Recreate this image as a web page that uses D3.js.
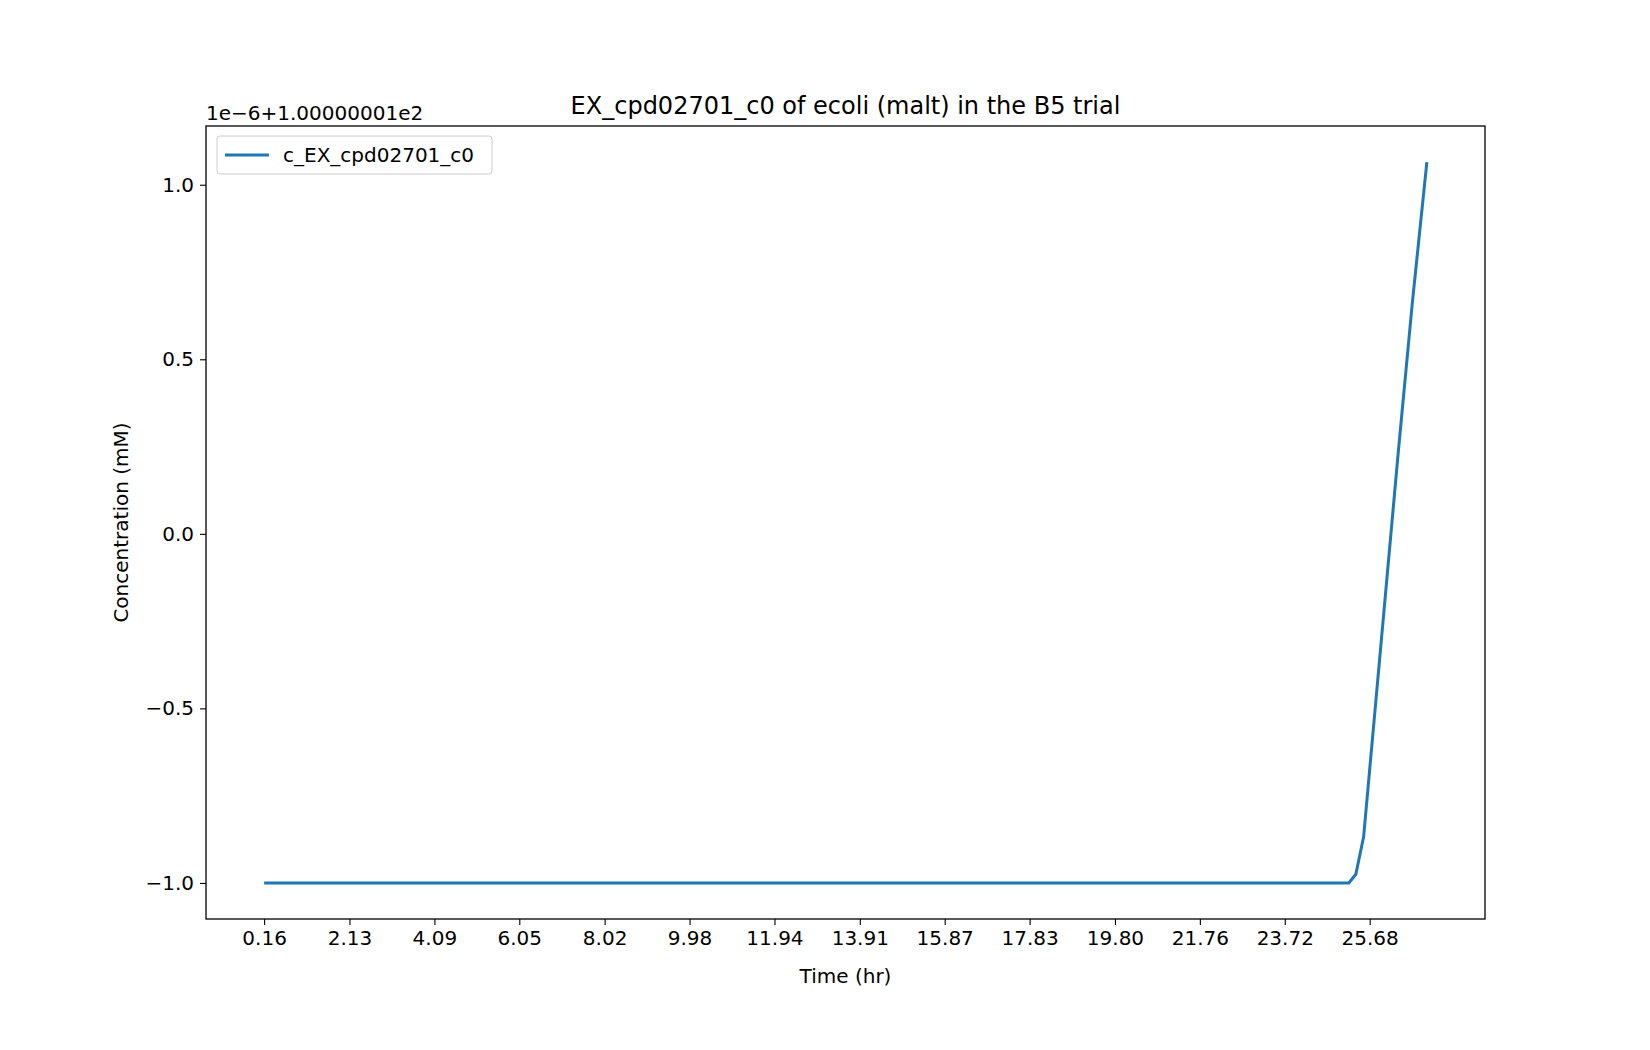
<!DOCTYPE html>
<html>
<head>
<meta charset="utf-8">
<script src="https://cdn.jsdelivr.net/npm/d3@7"></script>
<style>
  body { margin: 0; background: #fff; }
  text { font-family: "DejaVu Sans", sans-serif; }
</style>
</head>
<body>
<svg id="chart" width="1650" height="1050"></svg>
<script>
// data (y is offset from 1.00000001e2, in units of 1e-6)
const times = [0.16, 2.13, 4.09, 6.05, 8.02, 9.98, 11.94, 13.91, 15.87, 17.83, 19.80, 21.76, 23.72, 25.20, 25.36, 25.54, 26.34, 26.66, 27.00];
const values = [-1, -1, -1, -1, -1, -1, -1, -1, -1, -1, -1, -1, -1, -1, -0.975, -0.868, 0.234, 0.656, 1.065];
const xTickLabels = ["0.16", "2.13", "4.09", "6.05", "8.02", "9.98", "11.94", "13.91", "15.87", "17.83", "19.80", "21.76", "23.72", "25.68"];
const yTicks = [-1.0, -0.5, 0.0, 0.5, 1.0];

const width = 1650;
const height = 1050;
const margin = { left: 206, right: 165, top: 126, bottom: 131 };
const blue = "#1f77b4";
const fs = 20;

const svg = d3.select("#chart");

// scales with matplotlib-style 5% padding
const xPad = (d3.max(times) - d3.min(times)) * 0.05;
const yPad = (d3.max(values) - d3.min(values)) * 0.05;
const xScale = d3.scaleLinear()
  .domain([d3.min(times) - xPad, d3.max(times) + xPad])
  .range([margin.left, width - margin.right]);
const yScale = d3.scaleLinear()
  .domain([d3.min(values) - yPad, d3.max(values) + yPad])
  .range([height - margin.bottom, margin.top]);

// axes
const xAxis = d3.axisBottom(xScale)
  .tickValues(xTickLabels.map(Number))
  .tickFormat((d, i) => xTickLabels[i])
  .tickSizeOuter(0).tickSize(6).tickPadding(6);
const yAxis = d3.axisLeft(yScale)
  .tickValues(yTicks)
  .tickFormat((d) => d3.format(".1f")(d).replace("-", "\u2212"))
  .tickSizeOuter(0).tickSize(6).tickPadding(6);

const gx = svg.append("g")
  .attr("transform", `translate(0,${height - margin.bottom})`)
  .call(xAxis);
const gy = svg.append("g")
  .attr("transform", `translate(${margin.left},0)`)
  .call(yAxis);
[gx, gy].forEach((g) => {
  g.select(".domain").remove();
  g.selectAll("text").attr("font-size", fs).attr("fill", "#000").style("font-family", "DejaVu Sans");
  g.selectAll("line").attr("stroke", "#000").attr("stroke-width", 1.1);
});

// line
const line = d3.line()
  .x((d, i) => xScale(times[i]))
  .y((d) => yScale(d));
svg.append("path")
  .datum(values)
  .attr("d", line)
  .attr("fill", "none")
  .attr("stroke", blue)
  .attr("stroke-width", 3);

// frame
svg.append("rect")
  .attr("x", margin.left).attr("y", margin.top)
  .attr("width", width - margin.left - margin.right)
  .attr("height", height - margin.top - margin.bottom)
  .attr("fill", "none").attr("stroke", "#000").attr("stroke-width", 1.3);

// texts
svg.append("text")
  .attr("x", (margin.left + width - margin.right) / 2).attr("y", 114)
  .attr("text-anchor", "middle").attr("font-size", 24)
  .text("EX_cpd02701_c0 of ecoli (malt) in the B5 trial");
svg.append("text")
  .attr("x", margin.left).attr("y", 120)
  .attr("font-size", fs)
  .text("1e\u22126+1.00000001e2");
svg.append("text")
  .attr("x", (margin.left + width - margin.right) / 2).attr("y", 983)
  .attr("text-anchor", "middle").attr("font-size", fs)
  .text("Time (hr)");
svg.append("text")
  .attr("transform", `translate(128,${(margin.top + height - margin.bottom) / 2}) rotate(-90)`)
  .attr("text-anchor", "middle").attr("font-size", fs)
  .text("Concentration (mM)");

// legend
const lg = svg.append("g").attr("transform", `translate(${margin.left + 11},${margin.top + 10})`);
lg.append("rect")
  .attr("width", 275).attr("height", 38).attr("rx", 3)
  .attr("fill", "#fff").attr("stroke", "#ccc");
lg.append("line")
  .attr("x1", 8).attr("x2", 52).attr("y1", 19).attr("y2", 19)
  .attr("stroke", blue).attr("stroke-width", 3);
lg.append("text")
  .attr("x", 66).attr("y", 26).attr("font-size", fs)
  .text("c_EX_cpd02701_c0");
</script>
</body>
</html>
